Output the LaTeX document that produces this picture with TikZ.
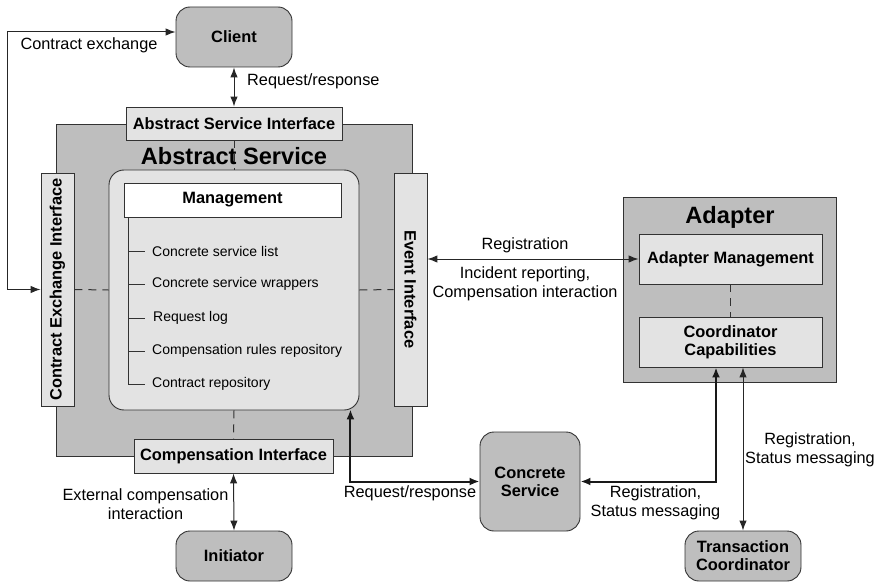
\documentclass[tikz,border=0pt]{standalone}
\usepackage{fontspec}
\setmainfont{Liberation Sans}
\usetikzlibrary{arrows.meta,calc}
\definecolor{boxdark}{RGB}{190,190,190}
\definecolor{boxlight}{RGB}{227,227,227}
\definecolor{edge}{RGB}{50,50,50}
\tikzset{
  base/.style={draw=edge, line width=0.9pt, inner sep=0pt},
  actor/.style={base, fill=boxdark, rounded corners=14pt, font=\fontsize{16.4}{18}\selectfont\bfseries, align=center},
  lightbox/.style={base, fill=boxlight, font=\fontsize{16.4}{18}\selectfont\bfseries, align=center},
  bigbox/.style={base, fill=boxdark},
  title/.style={font=\fontsize{23.6}{26}\selectfont\bfseries},
  lbl/.style={font=\fontsize{16.3}{19}\selectfont, align=center, inner sep=0pt},
  item/.style={font=\fontsize{14}{16}\selectfont, anchor=west, inner sep=0pt},
  dbl/.style={{Latex[length=10pt,width=7.5pt]}-{Latex[length=10pt,width=7.5pt]}, line width=1pt, draw=black!85},
  dblthick/.style={{Latex[length=10pt,width=8pt]}-{Latex[length=10pt,width=8pt]}, line width=2pt, draw=black!90},
  dashln/.style={draw=edge, line width=1pt, dash pattern=on 8pt off 6pt},
  treeln/.style={draw=edge, line width=1pt},
}
\begin{document}
\begin{tikzpicture}[x=1pt,y=-1pt]
\useasboundingbox (0,0) rectangle (881,583);
% abstract service
\node[bigbox, minimum width=356, minimum height=332] (absbox) at (234,290) {};
\node[title] (abstitle) at (234,156) {Abstract Service};
\node[base, fill=boxlight, rounded corners=15pt, minimum width=250, minimum height=240] (inner) at (234,290) {};
\node[base, fill=white, minimum width=217, minimum height=34, font=\fontsize{16.4}{18}\selectfont\bfseries] (mgmt) at (232.5,200) {Management};
\node[lightbox, minimum width=216, minimum height=33] (asi) at (234,123.5) {Abstract Service Interface};
\node[lightbox, minimum width=199, minimum height=34] (compi) at (233.5,456) {Compensation Interface};
\node[lightbox, minimum width=33, minimum height=233] (cei) at (57.5,289.5) {\rotatebox{90}{Contract Exchange Interface}};
\node[lightbox, minimum width=33, minimum height=233] (ei) at (410.5,289.5) {\rotatebox{-90}{Event Interface}};
% tree
\coordinate (t0) at (128,217);
\coordinate (t1) at (128,251);
\coordinate (t2) at (128,284);
\coordinate (t3) at (128,318);
\coordinate (t4) at (128,351);
\coordinate (t5) at (128,384);
\draw[treeln] (t0) -- (t5) -- ++(17,0);
\draw[treeln] (t1) -- ++(17,0);
\draw[treeln] (t2) -- ++(17,0);
\draw[treeln] (t3) -- ++(17,0);
\draw[treeln] (t4) -- ++(17,0);
\node[item] (i1) at (152,251) {Concrete service list};
\node[item] (i2) at (152,284) {Concrete service wrappers};
\node[item] (i3) at (153,318) {Request log};
\node[item] (i4) at (152,351) {Compensation rules repository};
\node[item] (i5) at (152,384) {Contract repository};
% actors
\node[actor, minimum width=116, minimum height=60] (client) at (234,37) {Client};
\node[actor, minimum width=116, minimum height=50] (initiator) at (234,556) {Initiator};
\node[actor, minimum width=100, minimum height=99] (concrete) at (530,481.5) {Concrete\\Service};
\node[actor, minimum width=116, minimum height=50] (tc) at (743,556) {Transaction\\Coordinator};
% adapter
\node[bigbox, minimum width=213, minimum height=185] (adapter) at (729.5,289.5) {};
\node[title] (adtitle) at (730,217) {Adapter};
\node[lightbox, minimum width=183, minimum height=50] (am) at (730.5,259) {Adapter Management};
\node[lightbox, minimum width=183, minimum height=50] (cc) at (730.5,342) {Coordinator\\Capabilities};
% dashed links
\draw[dashln] (asi.south) -- (inner.north);
\draw[dashln] (cei.east) -- (inner.west);
\draw[dashln] (inner.east) -- (ei.west);
\draw[dashln] (inner.south) -- (compi.north);
\draw[dashln] (am.south) -- (cc.north);
% connectors
\draw[dbl] (cei.west) -- ++(-33,0) |- ($(client.west)+(0,-5)$);
\draw[dbl] (client.south) -- (asi.north);
\draw[dbl] (compi.south) -- (initiator.north);
\draw[dbl] (ei.east |- am.west) -- (am.west);
\draw[dblthick] ($(inner.south east)+(-9,-1)$) |- (concrete.west);
\draw[dblthick] ($(cc.south)+(-14.5,0)$) |- (concrete.east);
\draw[dbl] (cc.south -| tc.north) -- (tc.north);
% labels
\node[lbl] (l1) at (89,45) {Contract exchange};
\node[lbl, anchor=west] (l2) at (247,81) {Request/response};
\node[lbl] (l3) at (525,245) {Registration};
\node[lbl] (l4) at (525,284) {Incident reporting,\\Compensation interaction};
\node[lbl] (l5) at (145.5,504) {External compensation\\interaction};
\node[lbl] (l6) at (410,493) {Request/response};
\node[lbl] (l7) at (655.5,502.5) {Registration,\\Status messaging};
\node[lbl] (l8) at (810,450) {Registration,\\Status messaging};
\end{tikzpicture}
\end{document}
